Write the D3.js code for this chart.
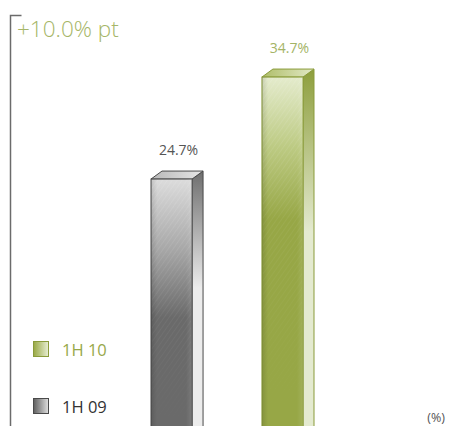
<!DOCTYPE html>
<html>
<head>
<meta charset="utf-8">
<script src="https://cdn.jsdelivr.net/npm/d3@7"></script>
<style>
  html, body { margin: 0; padding: 0; background: #fff; }
  svg { display: block; }
  text { font-family: "Open Sans", "DejaVu Sans", sans-serif; }
</style>
</head>
<body>
<svg id="chart" width="451" height="426"></svg>
<script>
// Half-year operating margin (%)
const categories = ["1H 09", "1H 10"];
const values = [24.7, 34.7];
const valueLabels = ["24.7%", "34.7%"];
const legendOrder = ["1H 10", "1H 09"];
const headline = "+10.0% pt";
const unitLabel = "(%)";

const svg = d3.select("#chart");
const defs = svg.append("defs");

// palette per series
const theme = {
  "1H 09": {
    frontTop: "#dcdcdc", frontMid: "#a8a8a8", frontBottom: "#6a6a6a", frontStop: 0.55,
    sideTop: "#6e6e6e", sideBottom: "#ececec",
    topA: "#b8b8b8", topB: "#e6e6e6",
    edge: "#4a4a4a", label: "#555555", legendText: "#333333",
    legA: "#5e5e5e", legB: "#e0e0e0"
  },
  "1H 10": {
    frontTop: "#e4ebcc", frontMid: "#bcca82", frontBottom: "#97a746", frontStop: 0.4,
    sideTop: "#8d9e3c", sideBottom: "#e4ead0",
    topA: "#aebd68", topB: "#e2e9c6",
    edge: "#8a9b3a", label: "#a4b466", legendText: "#97a84a",
    legA: "#98a843", legB: "#e8eed4"
  }
};

const x = d3.scaleBand().domain(categories).range([151, 303]).paddingInner(0.63).paddingOuter(0);
const y = d3.scaleLinear().domain([0, 40]).range([431, 23]);
const depthX = 11, depthY = 8;

// fine diagonal hatching laid over the lit part of each bar
const pat = defs.append("pattern").attr("id", "hatch")
  .attr("width", 4).attr("height", 4).attr("patternUnits", "userSpaceOnUse")
  .attr("patternTransform", "rotate(35)");
pat.append("line").attr("x1", 0).attr("y1", 0).attr("x2", 0).attr("y2", 4)
  .attr("stroke", "#ffffff").attr("stroke-width", 1).attr("stroke-opacity", 0.22);

categories.forEach((c, i) => {
  const t = theme[c];
  const id = "s" + i;
  const fg = defs.append("linearGradient").attr("id", id + "front")
    .attr("x1", 0).attr("y1", 0).attr("x2", 0).attr("y2", 1);
  fg.append("stop").attr("offset", 0).attr("stop-color", t.frontTop);
  fg.append("stop").attr("offset", t.frontStop * 0.5).attr("stop-color", t.frontMid);
  fg.append("stop").attr("offset", t.frontStop).attr("stop-color", t.frontBottom);
  fg.append("stop").attr("offset", 1).attr("stop-color", t.frontBottom);

  const hg = defs.append("linearGradient").attr("id", id + "frontH")
    .attr("x1", 0).attr("y1", 0).attr("x2", 1).attr("y2", 0);
  hg.append("stop").attr("offset", 0).attr("stop-color", "#000").attr("stop-opacity", 0.12);
  hg.append("stop").attr("offset", 0.15).attr("stop-color", "#000").attr("stop-opacity", 0);
  hg.append("stop").attr("offset", 0.85).attr("stop-color", "#fff").attr("stop-opacity", 0);
  hg.append("stop").attr("offset", 1).attr("stop-color", "#fff").attr("stop-opacity", 0.1);

  const sg = defs.append("linearGradient").attr("id", id + "side")
    .attr("x1", 0).attr("y1", 0).attr("x2", 0).attr("y2", 1);
  sg.append("stop").attr("offset", 0).attr("stop-color", t.sideTop);
  sg.append("stop").attr("offset", 0.45).attr("stop-color", t.sideBottom);
  sg.append("stop").attr("offset", 1).attr("stop-color", t.sideBottom);

  const tg = defs.append("linearGradient").attr("id", id + "top")
    .attr("x1", 0).attr("y1", 0).attr("x2", 1).attr("y2", 0);
  tg.append("stop").attr("offset", 0).attr("stop-color", t.topA);
  tg.append("stop").attr("offset", 1).attr("stop-color", t.topB);

  const lg = defs.append("linearGradient").attr("id", id + "leg")
    .attr("x1", 0).attr("y1", 0).attr("x2", 1).attr("y2", 0);
  lg.append("stop").attr("offset", 0).attr("stop-color", t.legA);
  lg.append("stop").attr("offset", 1).attr("stop-color", t.legB);

  // hatching fades out toward the bottom of the bar
  const mg = defs.append("linearGradient").attr("id", id + "fade")
    .attr("x1", 0).attr("y1", 0).attr("x2", 0).attr("y2", 1);
  mg.append("stop").attr("offset", 0).attr("stop-color", "#fff");
  mg.append("stop").attr("offset", t.frontStop).attr("stop-color", "#fff").attr("stop-opacity", 0.5);
  mg.append("stop").attr("offset", 1).attr("stop-color", "#fff").attr("stop-opacity", 0);
  const mask = defs.append("mask").attr("id", id + "mask")
    .attr("maskContentUnits", "objectBoundingBox");
  mask.append("rect").attr("width", 1).attr("height", 1).attr("fill", `url(#${id}fade)`);
});

// left bracket
svg.append("path")
  .attr("d", "M21.5,15.5 H10.5 V426")
  .attr("fill", "none").attr("stroke", "#6b6b6b").attr("stroke-width", 1.5);

// headline
svg.append("text").attr("x", 17).attr("y", 37)
  .attr("font-size", 22.5).attr("font-weight", 300).attr("fill", "#a6b668")
  .text(headline);

// bars
const bars = svg.selectAll("g.bar").data(categories.map((c, i) => ({c, v: values[i], i})))
  .join("g").attr("class", "bar");

bars.each(function(d) {
  const g = d3.select(this);
  const t = theme[d.c];
  const id = "s" + d.i;
  const x0 = x(d.c), x1 = x(d.c) + x.bandwidth();
  const yt = y(d.v), yb = y(0);

  // side face
  g.append("path")
    .attr("d", `M${x1},${yt} L${x1 + depthX},${yt - depthY} L${x1 + depthX},${yb} L${x1},${yb} Z`)
    .attr("fill", `url(#${id}side)`).attr("stroke", t.edge).attr("stroke-width", 1)
    .attr("stroke-linejoin", "round");
  // top face
  g.append("path")
    .attr("d", `M${x0},${yt} L${x0 + depthX},${yt - depthY} L${x1 + depthX},${yt - depthY} L${x1},${yt} Z`)
    .attr("fill", `url(#${id}top)`).attr("stroke", t.edge).attr("stroke-width", 1)
    .attr("stroke-linejoin", "round");
  // front face
  g.append("rect").attr("x", x0).attr("y", yt).attr("width", x1 - x0).attr("height", yb - yt)
    .attr("fill", `url(#${id}front)`).attr("stroke", t.edge).attr("stroke-width", 1);
  g.append("rect").attr("x", x0).attr("y", yt).attr("width", x1 - x0).attr("height", yb - yt)
    .attr("fill", `url(#${id}frontH)`);
  g.append("rect").attr("x", x0 + 1).attr("y", yt + 1).attr("width", x1 - x0 - 2)
    .attr("height", yb - yt - 2)
    .attr("fill", "url(#hatch)").attr("mask", `url(#${id}mask)`);

  // value label
  g.append("text").attr("x", (x0 + x1) / 2 + 7).attr("y", yt - depthY - 16)
    .attr("text-anchor", "middle").attr("font-size", 14)
    .attr("fill", t.label)
    .text(valueLabels[d.i]);
});

// legend
const legY = {"1H 10": 341, "1H 09": 398};
legendOrder.forEach(c => {
  const t = theme[c];
  const i = categories.indexOf(c);
  svg.append("rect").attr("x", 33.5).attr("y", legY[c] + 0.5).attr("width", 15).attr("height", 15)
    .attr("fill", `url(#s${i}leg)`).attr("stroke", t.edge).attr("stroke-width", 1);
  svg.append("text").attr("x", 62).attr("y", legY[c] + 15)
    .attr("font-size", 16.5).attr("fill", t.legendText).text(c);
});

// unit
svg.append("text").attr("x", 445).attr("y", 422).attr("text-anchor", "end")
  .attr("font-size", 12.5).attr("fill", "#555").text(unitLabel);
</script>
</body>
</html>
